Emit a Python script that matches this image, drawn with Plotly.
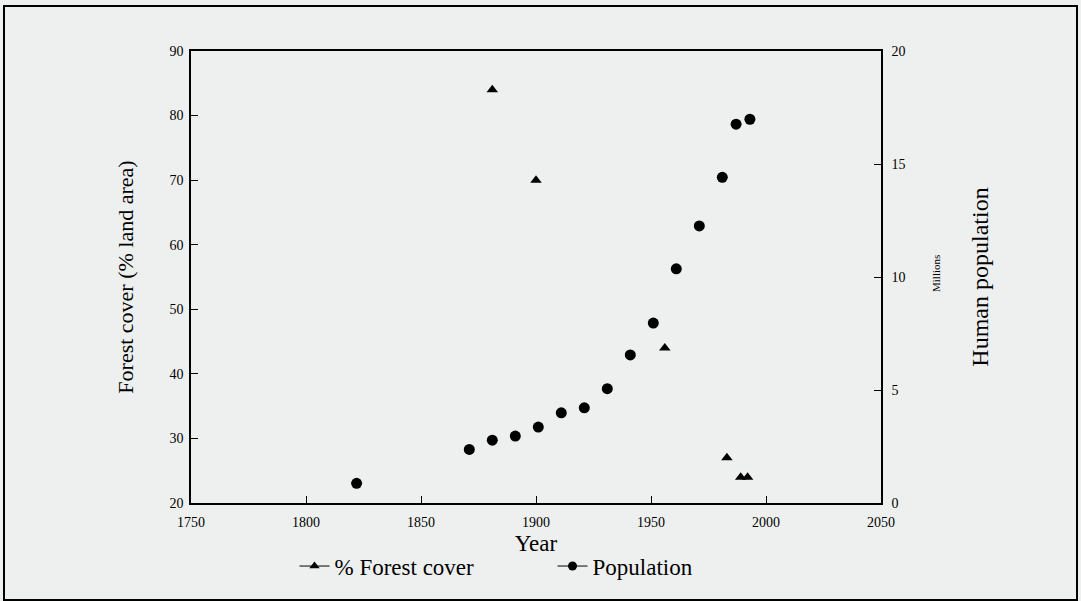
import plotly.graph_objects as go

# Forest cover (% land area)
forest_years = [1881, 1900, 1956, 1983, 1989, 1992]
forest_pct = [84, 70, 44, 27, 24, 24]

# Human population (millions)
pop_years = [1822, 1871, 1881, 1891, 1901, 1911, 1921, 1931, 1941, 1951, 1961, 1971, 1981, 1987, 1993]
pop_millions = [0.87, 2.37, 2.78, 2.96, 3.36, 3.99, 4.21, 5.06, 6.55, 7.96, 10.36, 12.26, 14.41, 16.76, 16.98]

x_ticks = [1750, 1800, 1850, 1900, 1950, 2000, 2050]
y_ticks = [20, 30, 40, 50, 60, 70, 80, 90]
y2_ticks = [0, 5, 10, 15, 20]

FONT = "Liberation Serif"
BG = "#eef0f0"

fig = go.Figure()
fig.add_trace(go.Scatter(x=forest_years, y=forest_pct, mode="markers",
                         marker=dict(symbol="triangle-up", size=10, color="black"),
                         showlegend=False, yaxis="y"))
fig.add_trace(go.Scatter(x=pop_years, y=pop_millions, mode="markers",
                         marker=dict(symbol="circle", size=11, color="black"),
                         showlegend=False, yaxis="y2"))
# legend entries
fig.add_trace(go.Scatter(x=[None], y=[None], mode="lines+markers", name="% Forest cover",
                         line=dict(color="black", width=1),
                         marker=dict(symbol="triangle-up", size=9, color="black")))
fig.add_trace(go.Scatter(x=[None], y=[None], mode="lines+markers", name="Population",
                         line=dict(color="black", width=1),
                         marker=dict(symbol="circle", size=9, color="black"), yaxis="y2"))

axis_common = dict(showgrid=False, zeroline=False, showline=True, linecolor="black",
                   linewidth=1.5, ticks="inside", ticklen=7, tickcolor="black",
                   tickfont=dict(family=FONT, size=14, color="black"))

fig.update_layout(
    width=1081, height=601,
    margin=dict(l=191, r=200, t=51, b=98, autoexpand=False),
    paper_bgcolor=BG, plot_bgcolor=BG,
    font=dict(family=FONT, color="black"),
    xaxis=dict(range=[1750, 2050], tickvals=x_ticks, mirror=True, ticklabelstandoff=5,
               title=dict(text="Year", font=dict(family=FONT, size=23), standoff=6),
               **axis_common),
    yaxis=dict(range=[20, 90], tickvals=y_ticks, ticklabelstandoff=3,
               title=dict(text="Forest cover (% land area)", font=dict(family=FONT, size=22), standoff=30),
               **axis_common),
    yaxis2=dict(range=[0, 20], tickvals=y2_ticks, overlaying="y", side="right", ticklabelstandoff=6,
                title=dict(text="Human population", font=dict(family=FONT, size=24), standoff=67),
                **axis_common),
    legend=dict(orientation="h", x=0.15, xanchor="left", y=-0.092, yanchor="top",
                font=dict(family=FONT, size=23), bgcolor="rgba(0,0,0,0)",
                itemwidth=30, entrywidth=213, entrywidthmode="pixels"),
    shapes=[dict(type="rect", xref="paper", yref="paper",
                 x0=(4 - 191) / 690, x1=(1077 - 191) / 690,
                 y0=(503 - 600) / 452, y1=(503 - 6) / 452,
                 line=dict(color="black", width=2), fillcolor="rgba(0,0,0,0)", layer="below")],
    annotations=[dict(text="Millions", xref="paper", yref="paper",
                      x=(944 - 191) / 690, y=(503 - 273) / 452, showarrow=False,
                      textangle=-90, font=dict(family=FONT, size=11, color="black"))],
)

fig.write_html("out.html")
